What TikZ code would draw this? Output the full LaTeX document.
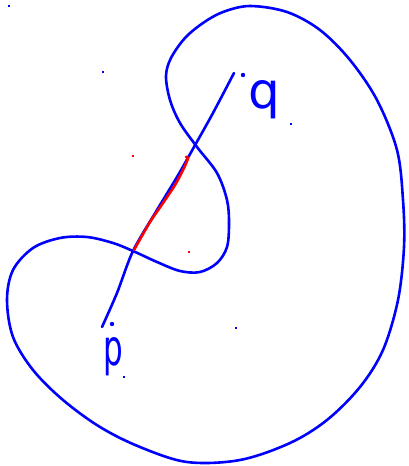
\documentclass[tikz,border=0pt]{standalone}
\usepackage{tikz}
\usepackage{fontspec}
\newfontfamily\handfont{DejaVu Sans}
\begin{document}
\begin{tikzpicture}[x=1pt,y=-1pt,
  ink/.style={draw=blue,line width=2.6pt,line cap=round,line join=round},
  redink/.style={draw=red,line width=2.6pt,line cap=round,line join=round},
  speck/.style={fill=#1,inner sep=0pt,minimum size=1.6pt,shape=rectangle},
  lbl/.style={text=blue,font=\handfont\fontsize{50}{50}\selectfont,inner sep=0pt}]
\useasboundingbox (0,0) rectangle (408,466);
% closed curve
\draw[ink] plot[smooth cycle,tension=0.55] coordinates {
 (250,6) (287,12) (320,30) (350,60) (377,100) (397,150) (403,200) (404,247)
 (398,300) (383,350) (360,387) (327,420) (290,443) (240,460) (187,462)
 (140,447) (100,427) (63,400) (33,370) (13,337) (7,300) (13,270) (33,248)
 (60,238) (87,237) (113,243) (133,251) (157,262) (180,271) (200,272)
 (217,263) (227,247) (229,223) (227,200) (217,173) (197,147) (180,123)
 (170,100) (166,76) (171,58) (185,38) (203,23) (223,12)};
% segment from p to q
\coordinate (pp) at (102,327);
\coordinate (qq) at (234,73);
\draw[ink] plot[smooth,tension=0.5] coordinates {
 (pp) (117,293) (133,251) (157,210) (177,177) (194,147) (213,113) (qq)};
% red part
\draw[redink] plot[smooth,tension=0.5] coordinates {
 (134,250) (150,222) (161,206) (175,185) (184,168) (188,158) (186,157)};
% points
\fill[blue] (112,324) circle (2.2pt);
\fill[blue] (243,75) circle (2.2pt);
% labels
\node[lbl] (p) at (113,357) {\scalebox{0.62}[1]{p}};
\node[lbl] (q) at (264,100) {q};
% stray specks
\node[speck=blue] (s1) at (103,72) {};
\node[speck=blue] (s2) at (291,124) {};
\node[speck=red] (s3) at (133,156) {};
\node[speck=red] (s4) at (189,252) {};
\node[speck=blue] (s5) at (236,328) {};
\node[speck=blue] (s6) at (124,377) {};
\node[speck=blue] (s7) at (108,339) {};
\node[speck=blue] (s8) at (9,6) {};
\end{tikzpicture}
\end{document}
